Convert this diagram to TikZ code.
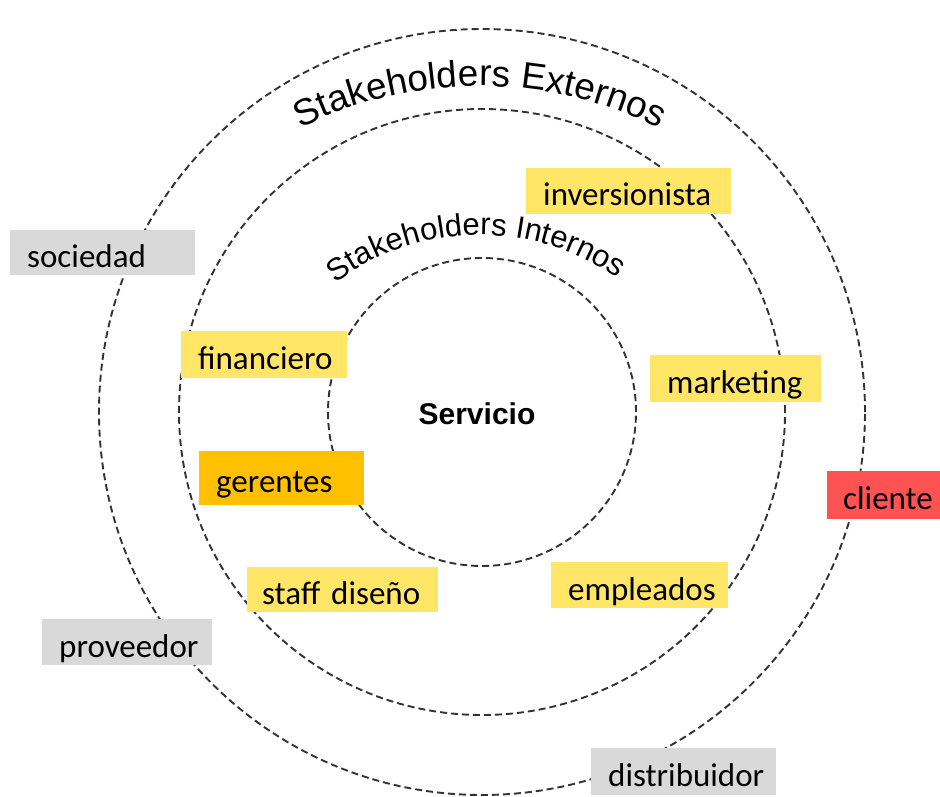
\documentclass[tikz,border=0pt]{standalone}
\usepackage{fontspec}
\usepackage{xcolor}
\usepackage{tikz}
\usetikzlibrary{decorations.text}
\newfontfamily\tagfont{Carlito}
\newfontfamily\arcfont{Liberation Sans}
\definecolor{tagyellow}{RGB}{255,230,102}
\definecolor{taggold}{RGB}{255,192,0}
\definecolor{taggray}{RGB}{217,217,217}
\definecolor{tagred}{RGB}{255,82,82}

\begin{document}
\begin{tikzpicture}[
  x=1pt, y=1pt,
  ring/.style={draw=black!80, line width=1.9pt, dash pattern=on 7pt off 4pt},
  tag/.style={anchor=west, inner xsep=17pt, inner ysep=0pt, minimum height=46pt,
              text height=34pt, text depth=4pt,
              align=left, font=\tagfont\fontsize{33}{36}\selectfont},
  internal/.style={tag, fill=tagyellow},
  external/.style={tag, fill=taggray},
]
\useasboundingbox (0,0) rectangle (940,796);
\coordinate (c) at (482,384);

% rings
\draw[ring] (c) circle[radius=383pt];
\draw[ring] (c) circle[radius=303pt];
\draw[ring] (c) circle[radius=154pt];

% ring titles
\path[decorate, decoration={text along path, text align=center,
  text={|\arcfont\fontsize{37}{40}\selectfont|Stakeholders Externos}}]
  (480,308) ++(117:402pt) arc[start angle=117, end angle=63, radius=402pt];
\path[decorate, decoration={text along path, text align=center,
  text={|\arcfont\fontsize{31}{34}\selectfont|Stakeholders Internos}}]
  (480,321) ++(129:240pt) arc[start angle=129, end angle=53, radius=240pt];

\node[font=\arcfont\bfseries\fontsize{30}{33}\selectfont] (servicio) at (477,382) {Servicio};

% internal stakeholders
\node[internal, text width=171pt] (inversionista) at (526,605) {inversionista};
\node[internal, text width=132pt, minimum height=47pt] (financiero) at (181,441.5) {financiero};
\node[internal, text width=137pt, minimum height=47pt] (marketing) at (650,417.5) {marketing};
\node[internal, fill=taggold, text width=131pt, minimum height=54pt] (gerentes) at (199,318) {gerentes};
\node[internal, inner xsep=15pt, text width=161pt, minimum height=45pt] (staff) at (247,206.5) {staff diseño};
\node[internal, text width=143pt] (empleados) at (551,211) {empleados};

% external stakeholders
\node[external, text width=151pt, minimum height=45pt] (sociedad) at (10,543.5) {sociedad};
\node[external, text width=136pt] (proveedor) at (42,154) {proveedor};
\node[external, text width=151pt, minimum height=47pt] (distribuidor) at (591,24.5) {distribuidor};
\node[external, fill=tagred, inner xsep=16pt, text width=82pt, minimum height=48pt] (cliente) at (827,301) {cliente};
\end{tikzpicture}
\end{document}
